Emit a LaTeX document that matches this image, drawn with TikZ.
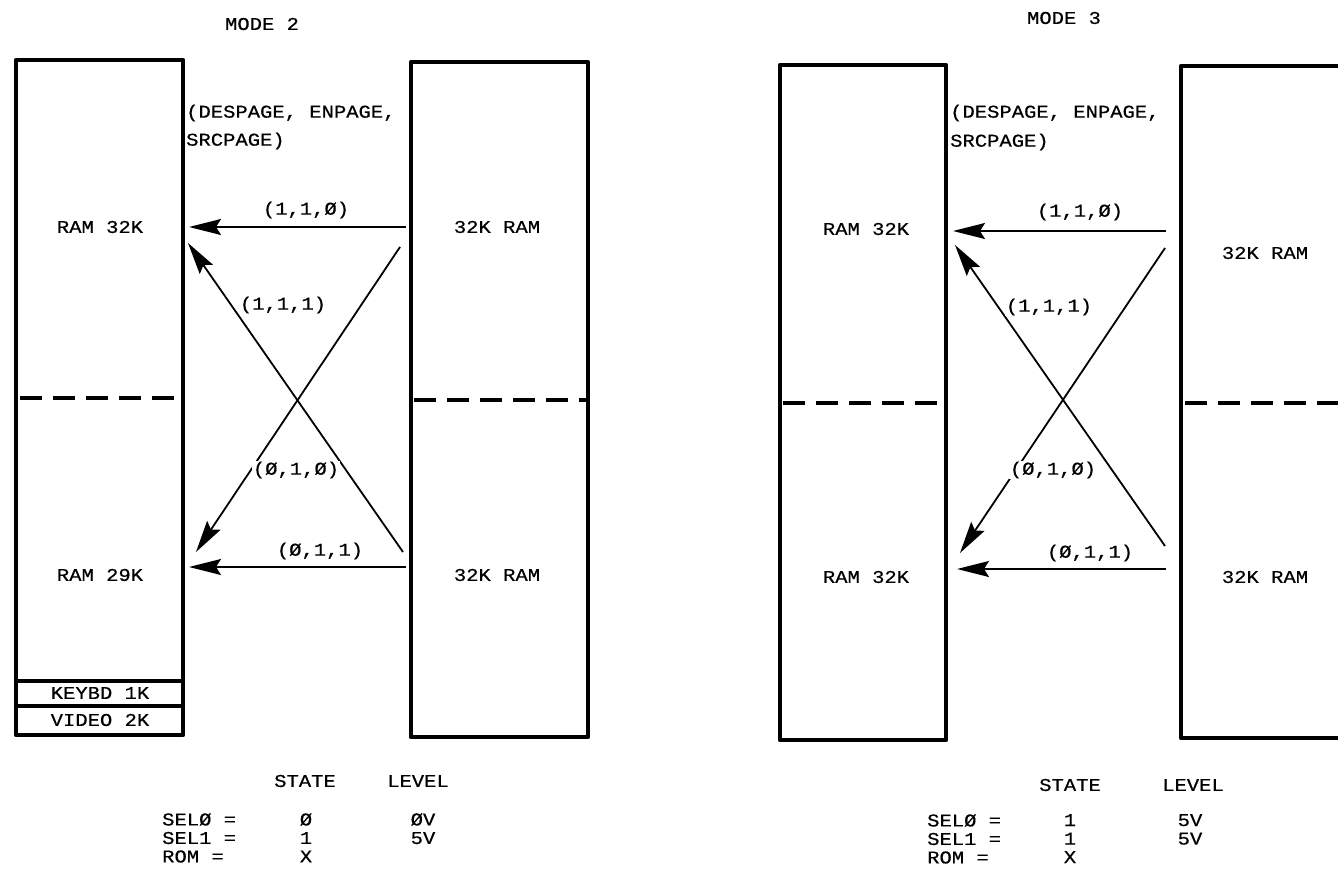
\documentclass[tikz,border=0pt]{standalone}
\usepackage{fontspec}
\setmainfont{Liberation Mono}[FakeBold=0.5,FakeStretch=1.14]
\usetikzlibrary{arrows.meta}
\begin{document}
\begin{tikzpicture}[x=1pt,y=-1pt,
  box/.style={line width=4.5pt,line join=round},
  dash line/.style={line width=4.5pt,dash pattern=on 22pt off 11pt},
  arr/.style={line width=1.8pt,-{Stealth[length=32pt,width=16pt,inset=5pt]}},
  txt/.style={inner sep=0pt,font=\fontsize{18}{22}\selectfont},
  tab/.style={inner sep=0pt,font=\fontsize{18}{18.5}\selectfont,anchor=north},
  lbl/.style={txt,fill=white,inner sep=1pt}]
\clip (0,0) rectangle (1338,877);
\fill[white] (0,0) rectangle (1338,877);
% ---------------- MODE 2 ----------------
\node[txt] (m2) at (262,24) {MODE 2};
\draw[box] (16,60) rectangle (183,735);
\draw[box] (16,681) -- (183,681);
\draw[box] (16,706) -- (183,706);
\draw[dash line] (20,398) -- (180,398);
\draw[box] (411,62) rectangle (588,737);
\draw[dash line] (414,400) -- (586,400);
\node[txt] (l2a) at (100,227) {RAM 32K};
\node[txt] (l2b) at (100,575) {RAM 29K};
\node[txt] (kb) at (100,693) {KEYBD 1K};
\node[txt] (vd) at (100,720) {VIDEO 2K};
\node[txt] (r2a) at (497,227) {32K RAM};
\node[txt] (r2b) at (497,575) {32K RAM};
\node[txt,anchor=west] (d2a) at (186,113) {(DESPAGE, ENPAGE,};
\node[txt,anchor=west] (d2b) at (186,141) {SRCPAGE)};
\coordinate (t2s) at (406,227); \coordinate (t2e) at (189,227);
\coordinate (b2s) at (406,567); \coordinate (b2e) at (189,567);
\coordinate (x2s) at (400,247); \coordinate (x2e) at (196,552);
\coordinate (y2s) at (403,552); \coordinate (y2e) at (188,243);
\draw[arr] (t2s) -- (t2e);
\draw[arr] (b2s) -- (b2e);
\draw[arr] (x2s) -- (x2e);
\draw[arr] (y2s) -- (y2e);
\node[lbl] (c2a) at (306,210) {(1,1,Ø)};
\node[lbl] (c2b) at (283,305) {(1,1,1)};
\node[lbl] (c2c) at (296,470) {(Ø,1,Ø)};
\node[lbl] (c2d) at (320,551) {(Ø,1,1)};
\node[txt] (s2) at (305,781) {STATE};
\node[txt] (v2) at (418,781) {LEVEL};
\node[tab,anchor=north west,align=left] (s2a) at (162,813) {SELØ =\\SEL1 =\\ROM =};
\node[tab,align=center] (s2d) at (306,813) {Ø\\1\\X};
\node[tab,align=center] (s2g) at (423,813) {ØV\\5V};
% ---------------- MODE 3 ----------------
\node[txt] (m3) at (1064,18) {MODE 3};
\draw[box] (780,65) rectangle (946,740);
\draw[dash line] (783,403) -- (944,403);
\draw[box] (1181,66) rectangle (1380,738);
\draw[dash line] (1185,403) -- (1338,403);
\node[txt] (l3a) at (866,229) {RAM 32K};
\node[txt] (l3b) at (866,577) {RAM 32K};
\node[txt] (r3a) at (1265,253) {32K RAM};
\node[txt] (r3b) at (1265,577) {32K RAM};
\node[txt,anchor=west] (d3a) at (950,113) {(DESPAGE, ENPAGE,};
\node[txt,anchor=west] (d3b) at (950,142) {SRCPAGE)};
\coordinate (t3s) at (1166,231); \coordinate (t3e) at (953,231);
\coordinate (b3s) at (1166,569); \coordinate (b3e) at (957,569);
\coordinate (x3s) at (1165,248); \coordinate (x3e) at (960,553);
\coordinate (y3s) at (1165,546); \coordinate (y3e) at (955,245);
\draw[arr] (t3s) -- (t3e);
\draw[arr] (b3s) -- (b3e);
\draw[arr] (x3s) -- (x3e);
\draw[arr] (y3s) -- (y3e);
\node[lbl] (c3a) at (1080,212) {(1,1,Ø)};
\node[lbl] (c3b) at (1049,307) {(1,1,1)};
\node[lbl] (c3c) at (1053,470) {(Ø,1,Ø)};
\node[lbl] (c3d) at (1090,553) {(Ø,1,1)};
\node[txt] (s3) at (1070,785) {STATE};
\node[txt] (v3) at (1193,785) {LEVEL};
\node[tab,anchor=north west,align=left] (s3a) at (927,814) {SELØ =\\SEL1 =\\ROM =};
\node[tab,align=center] (s3d) at (1070,814) {1\\1\\X};
\node[tab,align=center] (s3g) at (1190,814) {5V\\5V};
\end{tikzpicture}
\end{document}
